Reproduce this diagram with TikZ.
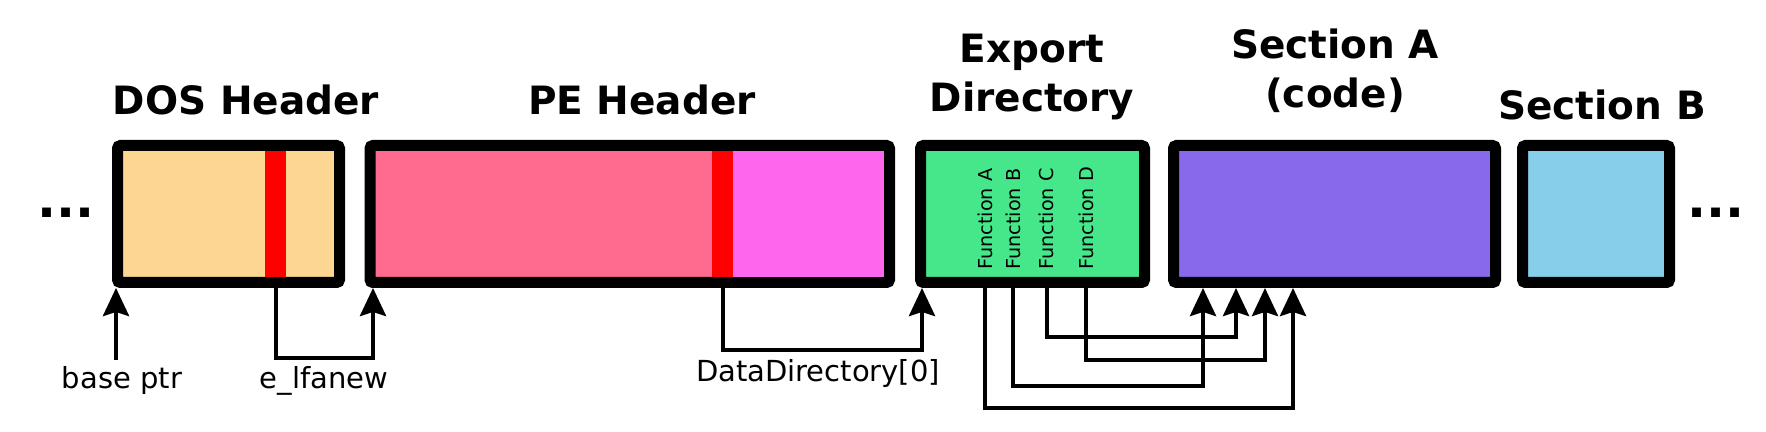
\documentclass[tikz,border=0pt]{standalone}
\usepackage{fontspec}
\setmainfont{DejaVu Sans}
\usetikzlibrary{arrows.meta,positioning}

\definecolor{dosfill}{HTML}{FDD691}
\definecolor{pefill}{HTML}{FF6A8F}
\definecolor{pemagenta}{HTML}{FF66EE}
\definecolor{expfill}{HTML}{46E68A}
\definecolor{secafill}{HTML}{8869EB}
\definecolor{secbfill}{HTML}{87CEEB}

\begin{document}
\begin{tikzpicture}[x=0.5pt,y=-0.5pt,>={Stealth[length=14pt,width=13pt,inset=2pt]},
    block/.style={draw,line width=5.5pt,rounded corners=1.5pt,inner sep=0pt,minimum height=68.5pt},
    field/.style={fill=red,inner sep=0pt,minimum width=10.5pt,minimum height=63pt},
    headtitle/.style={font=\fontsize{19.5}{24.5}\selectfont\bfseries,align=center,anchor=base,inner sep=0pt},
    ptrlabel/.style={font=\fontsize{14.5}{17}\selectfont,anchor=base,inner sep=0pt},
    func/.style={font=\fontsize{9.6}{11}\selectfont,rotate=90,anchor=west,inner sep=0pt},
    dots/.style={font=\fontsize{25}{25}\selectfont\bfseries,inner sep=0pt},
    link/.style={line width=2pt}]
            \useasboundingbox (0,0) rectangle (1766,432);
            % Blocks
            \node[block,fill=dosfill,minimum width=111pt] (dos) at (228.5,214) {};
            \node[block,fill=pefill,minimum width=259.75pt] (pe) at (629.75,214) {};
            \node[block,fill=expfill,minimum width=112pt] (expdir) at (1032.5,214) {};
            \node[block,fill=secafill,minimum width=161pt] (seca) at (1334.5,214) {};
            \node[block,fill=secbfill,minimum width=73.5pt] (secb) at (1596,214) {};
            \fill[pemagenta] (733,151) rectangle (884,277);
            % Fields
            \node[field] (lfanew) at (275.5,214) {};
            \node[field] (datadir) at (722.5,214) {};
            \node[func] (fa) at (985,270) {Function A};
            \node[func] (fb) at (1013,270) {Function B};
            \node[func] (fc) at (1046.5,270) {Function C};
            \node[func] (fd) at (1086,270) {Function D};
            % Titles
            \node[headtitle] (dostitle) at (246,115) {DOS Header};
            \node[headtitle] (petitle) at (642,115) {PE Header};
            \node[headtitle] (exptitle) at (1032,112) {Export\\Directory};
            \node[headtitle] (secatitle) at (1335,108) {Section A\\(code)};
            \node[headtitle] (secbtitle) at (1602,120) {Section B};
            \node[dots] (ldots) at (66,213) {...};
            \node[dots] (rdots) at (1716,213) {...};
            % Pointer labels
            \node[ptrlabel] (basetxt) at (122,388) {base ptr};
            \node[ptrlabel] (lfanewtxt) at (324,388) {e\_lfanew};
            \node[ptrlabel] (datadirtxt) at (818,382) {DataDirectory[0]};
            % Edges
            \coordinate (baseptr) at ([xshift=2pt]dos.south west);
            \draw[link,->] (basetxt.north -| baseptr) ++(0,-6) -- (baseptr);
            \draw[link,->] (lfanew.south) -- ++(0,81) -| ([xshift=4.25pt]pe.south west);
            \draw[link,->] (datadir.south) -- ++(0,73) -| ([xshift=3.5pt]expdir.south west);
            \draw[link,->] (fa.west |- expdir.south) -- ++(0,120) -| ([xshift=62.5pt]seca.south west);
            \draw[link,->] (fb.west |- expdir.south) -- ++(0,98) -| ([xshift=17.5pt]seca.south west);
            \draw[link,->] (fc.west |- expdir.south) -- ++(0,49) -| ([xshift=34pt]seca.south west);
            \draw[link,->] (fd.west |- expdir.south) -- ++(0,72) -| ([xshift=48.5pt]seca.south west);
        \end{tikzpicture}
\end{document}
